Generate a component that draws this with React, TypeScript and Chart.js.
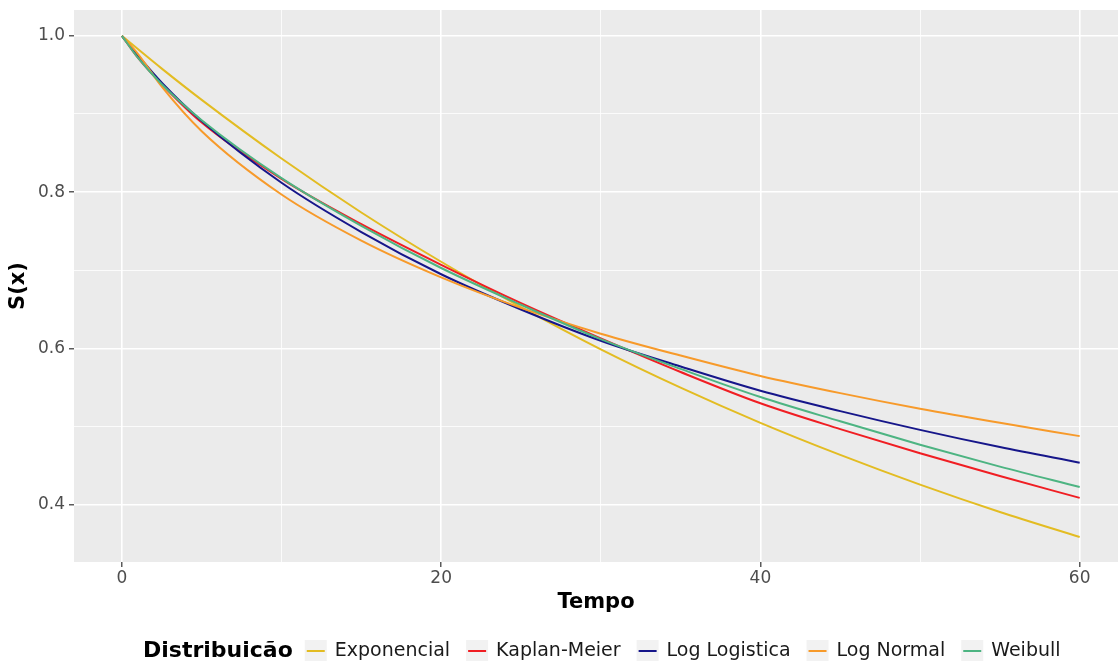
import React, { useEffect, useRef } from "react";
import { Chart, registerables } from "chart.js";

Chart.register(...registerables);

// ---- data ----
const times = [0, 1, 2.5, 5, 10, 15, 20, 25, 30, 35, 40, 45, 50, 55, 60];
const exponencial = [1, 0.983, 0.958, 0.918, 0.843, 0.774, 0.711, 0.653, 0.599, 0.55, 0.505, 0.464, 0.426, 0.391, 0.359];
const kaplanMeier = [1, 0.972, 0.938, 0.889, 0.817, 0.759, 0.707, 0.658, 0.613, 0.57, 0.53, 0.497, 0.466, 0.437, 0.409];
const logLogistica = [1, 0.975, 0.94, 0.891, 0.812, 0.749, 0.695, 0.65, 0.61, 0.577, 0.546, 0.52, 0.496, 0.474, 0.454];
const logNormal = [1, 0.977, 0.935, 0.878, 0.797, 0.738, 0.691, 0.652, 0.619, 0.591, 0.565, 0.543, 0.523, 0.505, 0.488];
const weibull = [1, 0.972, 0.938, 0.892, 0.818, 0.757, 0.703, 0.656, 0.612, 0.574, 0.538, 0.507, 0.477, 0.449, 0.423];

const seriesNames = ["Exponencial", "Kaplan-Meier", "Log Logistica", "Log Normal", "Weibull"];
const seriesValues = [exponencial, kaplanMeier, logLogistica, logNormal, weibull];
const seriesColors = ["#E3BC22", "#F01E23", "#16168A", "#F79A2A", "#4DB482"];

const xTickValues = [0, 10, 20, 30, 40, 50, 60];
const xLabeledTicks = [0, 20, 40, 60];
const yTickValues = [0.4, 0.5, 0.6, 0.7, 0.8, 0.9, 1.0];
const yLabeledTicks = [0.4, 0.6, 0.8, 1.0];

const legendTitle = "Distribuicão";
const xTitle = "Tempo";
const yTitle = "S(x)";

const FONT = "'DejaVu Sans', sans-serif";

const isIn = (list: number[], v: number) => list.some((m) => Math.abs(m - v) < 1e-9);

const panelBg = {
  id: "panelBg",
  beforeDraw(chart: any) {
    const { ctx, chartArea } = chart;
    ctx.save();
    ctx.fillStyle = "#EBEBEB";
    ctx.fillRect(chartArea.left, chartArea.top, chartArea.right - chartArea.left, chartArea.bottom - chartArea.top);
    ctx.restore();
  },
};

const ggLegend = {
  id: "ggLegend",
  afterDraw(chart: any) {
    const { ctx } = chart;
    const cy = 651;
    ctx.save();
    ctx.textBaseline = "middle";
    ctx.textAlign = "left";
    let x = 143;
    ctx.font = `bold 22px ${FONT}`;
    ctx.fillStyle = "#000000";
    ctx.fillText(legendTitle, x, cy);
    x += ctx.measureText(legendTitle).width + 12;
    ctx.font = `19px ${FONT}`;
    chart.data.datasets.forEach((ds: any) => {
      const key = 22;
      ctx.fillStyle = "#F2F2F2";
      ctx.fillRect(x, cy - key / 2, key, key);
      ctx.strokeStyle = ds.borderColor;
      ctx.lineWidth = 2;
      ctx.beginPath();
      ctx.moveTo(x + 2, cy);
      ctx.lineTo(x + key - 2, cy);
      ctx.stroke();
      x += key + 8;
      ctx.fillStyle = "#1A1A1A";
      ctx.fillText(ds.label, x, cy);
      x += ctx.measureText(ds.label).width + 16;
    });
    ctx.restore();
  },
};

export default function App() {
  const canvasRef = useRef<HTMLCanvasElement | null>(null);

  useEffect(() => {
    if (!canvasRef.current) return;
    const datasets = seriesNames.map((name, i) => ({
      label: name,
      data: times.map((t, j) => ({ x: t, y: seriesValues[i][j] })),
      borderColor: seriesColors[i],
      backgroundColor: seriesColors[i],
      borderWidth: 2,
      pointRadius: 0,
      fill: false,
      cubicInterpolationMode: "monotone" as const,
      order: seriesNames.length - i,
    }));

    const chart = new Chart(canvasRef.current, {
      type: "line",
      data: { datasets },
      plugins: [panelBg, ggLegend],
      options: {
        animation: false,
        responsive: false,
        devicePixelRatio: 1,
        layout: { padding: { top: 10, right: 0, left: 0, bottom: 0 } },
        plugins: { legend: { display: false }, tooltip: { enabled: false } },
        scales: {
          x: {
            type: "linear",
            min: -3,
            max: 62.4,
            afterBuildTicks: (scale: any) => {
              scale.ticks = xTickValues.map((v) => ({ value: v }));
            },
            afterFit: (scale: any) => {
              scale.height = 99;
            },
            border: { display: false },
            grid: {
              color: "#FFFFFF",
              lineWidth: (c: any) => (isIn(xLabeledTicks, c.tick?.value) ? 1.6 : 0.8),
              tickColor: (c: any) => (isIn(xLabeledTicks, c.tick?.value) ? "#333333" : "rgba(0,0,0,0)"),
              tickWidth: 1.2,
              tickLength: 5,
              drawTicks: true,
            },
            ticks: {
              autoSkip: false,
              maxRotation: 0,
              padding: 1,
              color: "#4D4D4D",
              font: { family: FONT, size: 17 },
              callback: (v: any) => (isIn(xLabeledTicks, Number(v)) ? String(v) : ""),
            },
            title: {
              display: true,
              text: xTitle,
              color: "#000000",
              font: { family: FONT, size: 21, weight: "bold" },
              padding: { top: 0, bottom: 46 },
            },
          },
          y: {
            type: "linear",
            min: 0.327,
            max: 1.033,
            afterBuildTicks: (scale: any) => {
              scale.ticks = yTickValues.map((v) => ({ value: v }));
            },
            afterFit: (scale: any) => {
              scale.width = 74;
            },
            border: { display: false },
            grid: {
              color: "#FFFFFF",
              lineWidth: (c: any) => (isIn(yLabeledTicks, c.tick?.value) ? 1.6 : 0.8),
              tickColor: (c: any) => (isIn(yLabeledTicks, c.tick?.value) ? "#333333" : "rgba(0,0,0,0)"),
              tickWidth: 1.2,
              tickLength: 5,
              drawTicks: true,
            },
            ticks: {
              autoSkip: false,
              padding: 4,
              color: "#4D4D4D",
              font: { family: FONT, size: 17, lineHeight: 0.6 },
              callback: (v: any) => (isIn(yLabeledTicks, Number(v)) ? Number(v).toFixed(1) : ""),
            },
            title: {
              display: true,
              text: yTitle,
              color: "#000000",
              font: { family: FONT, size: 21, weight: "bold" },
              padding: { top: 6, bottom: 0 },
            },
          },
        },
      },
    });
    return () => chart.destroy();
  }, []);

  return (
    <div style={{ position: "absolute", left: 0, top: 0, width: 1118, height: 661, background: "#FFFFFF" }}>
      <canvas ref={canvasRef} width={1118} height={661} style={{ display: "block" }} />
    </div>
  );
}
